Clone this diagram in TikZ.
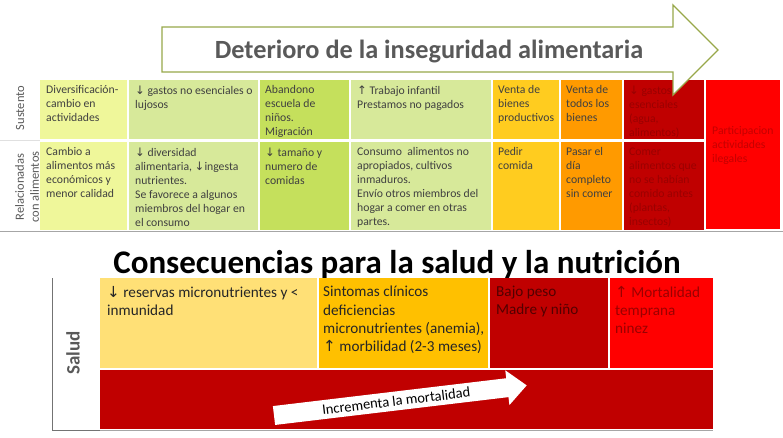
\documentclass[tikz,border=0pt]{standalone}
\usepackage{fontspec}
\setmainfont{Carlito}
\newfontfamily\arrowfont{DejaVu Sans}
\newcommand{\myDown}{{\arrowfont\char"2193}}
\newcommand{\myUp}{{\arrowfont\char"2191}}
\definecolor{cA}{HTML}{EFF79A}
\definecolor{cB}{HTML}{D7E99A}
\definecolor{cC}{HTML}{C5E05C}
\definecolor{cE}{HTML}{FFCC1F}
\definecolor{cF}{HTML}{FF9A00}
\definecolor{dred}{HTML}{C00000}
\definecolor{bred}{HTML}{FF0000}
\definecolor{byel}{HTML}{FFE076}
\definecolor{bgold}{HTML}{FFC000}
\definecolor{olivec}{HTML}{98A84A}
\definecolor{txtgray}{HTML}{404040}
\definecolor{lblgray}{HTML}{595959}
\definecolor{tdred}{HTML}{9A0000}
\definecolor{tred}{HTML}{C40000}
\definecolor{vdred}{HTML}{520000}
\definecolor{linegray}{HTML}{A6A6A6}
\tikzset{
  topcell/.style={anchor=north west, inner sep=0pt, align=left, font=\fontsize{11.7}{14}\selectfont, text=txtgray},
  botcell/.style={anchor=north west, inner sep=0pt, align=left, font=\fontsize{15.2}{18.3}\selectfont, text=black!85},
  sidelbl/.style={rotate=90, inner sep=0pt, align=center, font=\fontsize{12.5}{15}\selectfont, text=lblgray},
}
\begin{document}
\begin{tikzpicture}[x=1pt,y=-1pt]
\useasboundingbox (0,0) rectangle (783,437);
\fill[white] (0,0) rectangle (783,437);

% ---------- top table ----------
% row 1
\fill[cA] (40,80) rectangle (127.25,139);
\fill[cB] (128.75,80) rectangle (258.25,139);
\fill[cC] (259.75,80) rectangle (349.25,139);
\fill[cB] (350.75,80) rectangle (491.25,139);
\fill[cE] (492.75,80) rectangle (559.25,139);
\fill[cF] (560.75,80) rectangle (622.25,139);
\fill[dred] (623.75,80) rectangle (704.25,139);
% row 2
\fill[cA] (40,141.5) rectangle (127.25,230);
\fill[cB] (128.75,141.5) rectangle (258.25,230);
\fill[cC] (259.75,141.5) rectangle (349.25,230);
\fill[cB] (350.75,141.5) rectangle (491.25,230);
\fill[cE] (492.75,141.5) rectangle (559.25,230);
\fill[cF] (560.75,141.5) rectangle (622.25,230);
\fill[dred] (623.75,141.5) rectangle (704.25,230);
% spanning red cell
\fill[bred] (706,80) rectangle (780,229);
\draw[linegray, line width=1] (0,231.5) -- (783,231.5);
\draw[black!12, line width=0.8] (0,140.3) -- (40,140.3);

\node[sidelbl] (lsus) at (20,108) {Sustento};
\node[sidelbl] (lrel) at (27,187) {Relacionadas\\con alimentos};

\node[topcell] (t11) at (46,85.5) {Diversificación-\\cambio en\\actividades};
\node[topcell] (t12) at (135,85.5) {\myDown{} gastos no esenciales o\\lujosos};
\node[topcell] (t13) at (265,85.5) {Abandono\\escuela de\\niños.\\Migración};
\node[topcell] (t14) at (357,85.5) {\myUp{} Trabajo infantil\\Prestamos no pagados};
\node[topcell] (t15) at (498,85.5) {Venta de\\bienes\\productivos};
\node[topcell] (t16) at (566,85.5) {Venta de\\todos los\\bienes};
\node[topcell, text=tdred] (t17) at (629,85.5) {\myDown{} gastos\\esenciales\\(agua,\\alimentos)};
\node[topcell, text=tred] (t18) at (712,126) {Participacion\\actividades\\ilegales};

\node[topcell] (t21) at (46,147.5) {Cambio a\\alimentos más\\económicos y\\menor calidad};
\node[topcell] (t22) at (135,147.5) {\myDown{} diversidad\\alimentaria, \myDown{}ingesta\\nutrientes.\\Se favorece a algunos\\miembros del hogar en\\el consumo};
\node[topcell] (t23) at (265,147.5) {\myDown{} tamaño y\\numero de\\comidas};
\node[topcell] (t24) at (357,147.5) {Consumo\ \ alimentos no\\apropiados, cultivos\\inmaduros.\\Envío otros miembros del\\hogar a comer en otras\\partes.};
\node[topcell] (t25) at (498,147.5) {Pedir\\comida};
\node[topcell] (t26) at (566,147.5) {Pasar el\\día\\completo\\sin comer};
\node[topcell, text=tdred] (t27) at (629,147.5) {Comer\\alimentos que\\no se habían\\comido antes\\(plantas,\\insectos)};

% ---------- top arrow ----------
\draw[olivec, line width=1.3, fill=white, line join=miter]
  (162,27) -- (673,27) -- (673,5) -- (718,50) -- (673,95) -- (673,72) -- (162,72) -- cycle;
\node[anchor=base, inner sep=0pt, font=\bfseries\fontsize{26.3}{30}\selectfont, text=lblgray] (ttl1) at (429,58) {Deterioro de la inseguridad alimentaria};

% ---------- bottom ----------
\node[anchor=base, inner sep=0pt, font=\bfseries\fontsize{33}{38}\selectfont, text=black] (ttl2) at (397,273) {Consecuencias para la salud y la nutrición};

\fill[byel] (100,278) rectangle (317.25,368);
\fill[bgold] (318.75,278) rectangle (488.25,368);
\fill[dred] (489.75,278) rectangle (608.25,368);
\fill[bred] (609.75,278) rectangle (713,368);
\fill[dred] (100,370) rectangle (713,429);
\draw[linegray, line width=1] (100,430) -- (713,430);
\draw[black!55, line width=1] (52,278) -- (52,430.5) -- (100,430.5);

\node[rotate=90, inner sep=0pt, font=\bfseries\fontsize{19}{22}\selectfont, text=lblgray] (lsal) at (73,353) {Salud};

\node[botcell] (b1) at (107,286) {\myDown{} reservas micronutrientes y <\\inmunidad};
\node[botcell] (b2) at (323,286) {Sintomas clínicos\\deficiencias\\micronutrientes (anemia),\\\myUp{} morbilidad (2-3 meses)};
\node[botcell, text=vdred] (b3) at (496,286) {Bajo peso\\Madre y niño};
\node[botcell, text=tdred] (b4) at (615,286) {\myUp{} Mortalidad\\temprana\\ninez};

\begin{scope}[shift={(274,415.5)}, rotate=6.8]
  \fill[white] (0,-9.5) -- (235,-9.5) -- (235,-17.5) -- (254.5,0) -- (235,17.5) -- (235,9.5) -- (0,9.5) -- cycle;
  \node[rotate=6.8, inner sep=0pt, font=\fontsize{14.5}{16}\selectfont, text=black] (incr) at (123,0) {Incrementa la mortalidad};
\end{scope}
\end{tikzpicture}
\end{document}
